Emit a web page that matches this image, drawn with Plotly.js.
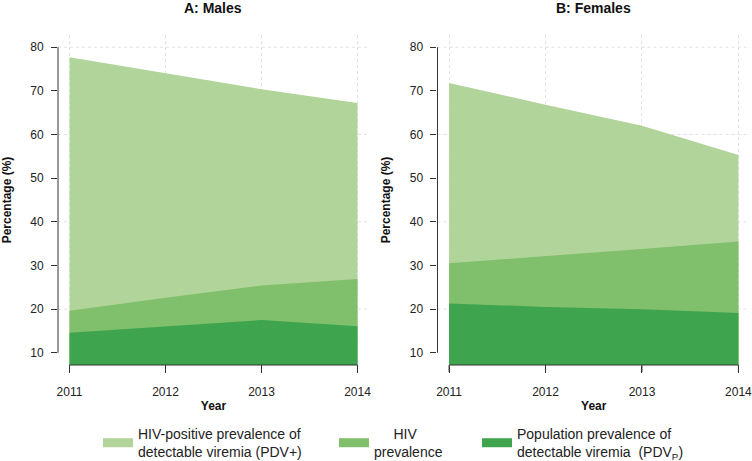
<!DOCTYPE html>
<html>
<head>
<meta charset="utf-8">
<script src="https://cdn.plot.ly/plotly-3.0.1.min.js"></script>
<style>html,body{margin:0;padding:0;background:#fff}#chart{width:752px;height:461px}</style>
</head>
<body>
<div id="chart"></div>
<script>
// ---- data ----
const years = [2011, 2012, 2013, 2014];
const malesPDVpos = [77.7, 74.0, 70.4, 67.2];
const malesHIV = [19.6, 22.6, 25.4, 26.9];
const malesPDVpop = [14.6, 16.1, 17.5, 16.1];
const femalesPDVpos = [71.8, 66.8, 62.0, 55.3];
const femalesHIV = [30.5, 32.1, 33.8, 35.5];
const femalesPDVpop = [21.3, 20.5, 20.0, 19.1];
const yTicks = [10, 20, 30, 40, 50, 60, 70, 80];
const yGrid = [20, 40, 60, 80];
const panelTitles = ["A: Males", "B: Females"];
const seriesNames = [
  "HIV-positive prevalence of<br>detectable viremia (PDV+)",
  "\u00a0\u00a0\u00a0\u00a0\u00a0HIV<br>prevalence",
  "Population prevalence of<br>detectable viremia  (PDV<sub>P</sub>)"
];
const colors = ["#b1d49a", "#80bf6b", "#3ea44e"];

const FONT = "Liberation Sans, Arial, sans-serif";
function area(x, y, c, xa, ya) {
  return {x: x, y: y, type: "scatter", mode: "lines", fill: "tozeroy",
    fillcolor: c, line: {width: 0, color: c}, xaxis: xa, yaxis: ya,
    showlegend: false, hoverinfo: "x+y"};
}
const traces = [
  area(years, malesPDVpos, colors[0], "x", "y"),
  area(years, malesHIV, colors[1], "x", "y"),
  area(years, malesPDVpop, colors[2], "x", "y"),
  area(years, femalesPDVpos, colors[0], "x2", "y2"),
  area(years, femalesHIV, colors[1], "x2", "y2"),
  area(years, femalesPDVpop, colors[2], "x2", "y2")
];
const legendIds = ["legend", "legend2", "legend3"];
seriesNames.forEach((n, i) => traces.push({
  x: [null], y: [null], type: "scatter", mode: "lines", name: n, legend: legendIds[i],
  line: {color: colors[i], width: 9}, xaxis: "x", yaxis: "y", showlegend: true
}));

const yr = [7.2, 82.8];
const xr = [2010.88, 2014.12];
const GRID = "#e2e2e2";
const AXC = "#333";
function xax(domain, anchor) {
  return {domain: domain, anchor: anchor, range: xr, tickvals: years,
    ticks: "outside", ticklen: 7, tickcolor: AXC, tickwidth: 1, automargin: false,
    ticklabelstandoff: 9, ticklabeloverflow: "allow",
    showline: false, zeroline: false, showgrid: true, gridcolor: GRID, griddash: "dot",
    tickfont: {family: FONT, size: 12, color: "#222"},
    title: {text: "<b>Year</b>", font: {family: FONT, size: 12, color: "#111"}, standoff: 3}};
}
function yax(anchor) {
  return {anchor: anchor, range: yr, tickvals: yTicks, automargin: false,
    ticks: "outside", ticklen: 6, tickcolor: AXC, tickwidth: 1, ticklabelstandoff: 5,
    showline: false, zeroline: false, showgrid: false,
    tickfont: {family: FONT, size: 12, color: "#222"},
    title: {text: "<b>Percentage (%)</b>", font: {family: FONT, size: 12, color: "#111"}, standoff: 16}};
}
const dA = [0, 0.4494], dB = [0.5484, 1];
function leg(x) {
  return {orientation: "h", xref: "container", yref: "container", x: x, xanchor: "left",
    y: 0.039, yanchor: "middle", bgcolor: "rgba(0,0,0,0)", borderwidth: 0,
    font: {family: FONT, size: 14, color: "#222"}, valign: "middle"};
}
const layout = {
  width: 752, height: 461, paper_bgcolor: "#fff", plot_bgcolor: "#fff",
  margin: {l: 58, r: 2, t: 35, b: 96, autoexpand: false},
  font: {family: FONT, color: "#222"},
  xaxis: xax(dA, "y"), yaxis: yax("x"),
  xaxis2: xax(dB, "y2"), yaxis2: yax("x2"),
  showlegend: true,
  legend: leg(0.1303), legend2: leg(0.4441), legend3: leg(0.6343),
  annotations: panelTitles.map((t, i) => ({text: "<b>" + t + "</b>", xref: (i ? "x2" : "x") + " domain",
    yref: "paper", x: 0.5, y: 1, yshift: 27, xanchor: "center", yanchor: "middle", showarrow: false,
    font: {family: FONT, size: 14, color: "#111"}})),
  shapes: []
};
const tickLenPaper = 7 / 330;
[["x", "y", dA], ["x2", "y2", dB]].forEach(([xa, ya, dom]) => {
  yGrid.forEach(g => layout.shapes.push({type: "line", layer: "below", xref: xa + " domain", yref: ya,
    x0: 0, x1: 1, y0: g, y1: g, line: {color: GRID, width: 1, dash: "dot"}}));
  layout.shapes.push({type: "line", xref: "paper", yref: ya, x0: dom[0], x1: dom[0],
    y0: yTicks[0], y1: yTicks[yTicks.length - 1], line: {color: AXC, width: 1}});
  layout.shapes.push({type: "line", xref: xa, yref: "paper", y0: 0, y1: 0,
    x0: years[0], x1: years[years.length - 1], line: {color: AXC, width: 1}});
  years.forEach(yv => layout.shapes.push({type: "line", xref: xa, yref: "paper",
    x0: yv, x1: yv, y0: 0, y1: -tickLenPaper, line: {color: AXC, width: 1}}));
});
Plotly.newPlot("chart", traces, layout, {displayModeBar: false, staticPlot: true});
</script>
</body>
</html>
